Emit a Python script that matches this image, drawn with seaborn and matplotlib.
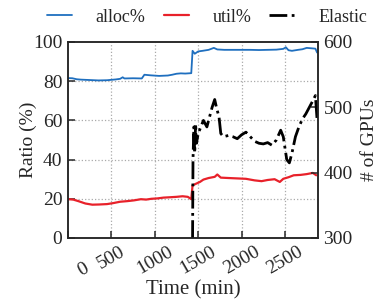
import matplotlib
matplotlib.use("Agg")
import matplotlib.pyplot as plt
import seaborn as sns

# alloc% (blue)
alloc_t = [0, 50, 100, 150, 250, 350, 450, 550, 600, 630, 650, 750, 850, 880, 950,
           1050, 1150, 1200, 1250, 1300, 1350, 1420, 1435, 1460, 1500, 1550, 1620,
           1680, 1720, 1800, 1900, 2000, 2100, 2200, 2300, 2400, 2480, 2510, 2540,
           2580, 2650, 2700, 2750, 2800, 2850, 2870]
alloc_v = [81.6, 81.5, 81.0, 80.8, 80.6, 80.4, 80.5, 80.9, 81.2, 82.0, 81.4, 81.5,
           81.4, 83.3, 83.0, 82.7, 82.9, 83.3, 83.8, 84.0, 83.9, 84.1, 95.5, 94.0,
           95.2, 95.5, 96.0, 97.0, 96.2, 96.0, 96.0, 96.0, 96.0, 95.9, 96.0, 96.1,
           96.5, 97.3, 95.8, 95.5, 96.0, 96.3, 97.0, 96.8, 96.6, 94.6]

# util% (red)
util_t = [0, 60, 120, 200, 280, 360, 450, 520, 600, 680, 760, 840, 900, 960, 1030,
          1100, 1180, 1250, 1320, 1380, 1420, 1435, 1470, 1520, 1560, 1620, 1690,
          1720, 1760, 1850, 1950, 2050, 2150, 2230, 2300, 2380, 2440, 2480, 2540,
          2600, 2680, 2750, 2820, 2860]
util_v = [19.8, 19.6, 18.8, 17.6, 17.0, 17.1, 17.3, 17.8, 18.5, 18.8, 19.2, 19.8,
          19.6, 20.0, 20.2, 20.6, 20.8, 21.0, 21.3, 21.0, 19.8, 26.8, 27.6, 28.6,
          29.8, 30.6, 31.2, 32.4, 30.8, 30.6, 30.4, 30.2, 29.4, 29.0, 29.6, 30.0,
          28.6, 30.2, 31.0, 32.0, 32.2, 32.6, 33.2, 32.0]

# Elastic (# of GPUs, right axis)
elastic_t = [1435, 1440, 1450, 1460, 1470, 1480, 1500, 1530, 1560, 1600, 1630, 1660,
             1690, 1710, 1740, 1760, 1790, 1850, 1900, 1950, 2000, 2050, 2100, 2150,
             2200, 2250, 2300, 2350, 2400, 2450, 2480, 2520, 2550, 2580, 2620, 2660,
             2700, 2740, 2780, 2820, 2850, 2870]
elastic_v = [300, 420, 470, 430, 475, 445, 460, 470, 480, 470, 485, 500, 512, 500,
             485, 460, 455, 457, 455, 452, 458, 462, 455, 448, 445, 444, 446, 442,
             450, 465, 455, 420, 415, 430, 455, 470, 482, 490, 500, 510, 518, 480]

x_ticks = [0, 500, 1000, 1500, 2000, 2500]
left_ticks = [0, 20, 40, 60, 80, 100]
right_ticks = [300, 400, 500, 600]

sns.set_style("ticks")
plt.rcParams['font.family'] = ['Liberation Serif', 'DejaVu Serif']
plt.rcParams['font.size'] = 14

fig = plt.figure(figsize=(3.84, 3.06), dpi=100)
ax = fig.add_axes([68/384, 1 - 238/306, 250/384, 196/306])
ax2 = ax.twinx()

sns.lineplot(x=alloc_t, y=alloc_v, ax=ax, color='#1f6fbf', linewidth=1.3, label='alloc%', legend=False)
sns.lineplot(x=util_t, y=util_v, ax=ax, color='#e8212a', linewidth=1.6, label='util%', legend=False)
sns.lineplot(x=elastic_t, y=elastic_v, ax=ax2, color='black', linewidth=2.0,
             linestyle='-.', label='Elastic', legend=False)

ax.set_xlim(0, 2880)
ax.set_ylim(0, 100)
ax2.set_ylim(300, 600)
ax.set_xticks(x_ticks)
# first label is drawn separately: it sits right of its tick in the original
ax.set_xticklabels([''] + [str(t) for t in x_ticks[1:]], rotation=30, ha='center')
ax.annotate(str(x_ticks[0]), xy=(x_ticks[0], 0), xycoords=('data', 'axes fraction'),
            xytext=(11, -23), textcoords='offset points', rotation=30,
            ha='center', va='center', fontsize=14)
ax.set_yticks(left_ticks)
ax2.set_yticks(right_ticks)

# dotted grid
for t in x_ticks[1:]:
    ax.axvline(t, color='#aaaaaa', linestyle=':', linewidth=0.9, zorder=0)
for v in left_ticks[1:-1]:
    ax.axhline(v, color='#aaaaaa', linestyle=':', linewidth=0.9, zorder=0)

ax.tick_params(direction='in', length=5, width=1.1, labelsize=14, pad=4)
ax2.tick_params(direction='in', length=5, width=1.1, labelsize=14, pad=4)
for sp in ax.spines.values():
    sp.set_linewidth(1.1)
for sp in ax2.spines.values():
    sp.set_linewidth(1.1)

ax.set_xlabel('Time (min)', fontsize=15, labelpad=2)
ax.set_ylabel('Ratio (%)', fontsize=14, labelpad=-3)
ax2.set_ylabel('# of GPUs', fontsize=14, labelpad=6)

h1, l1 = ax.get_legend_handles_labels()
h2, l2 = ax2.get_legend_handles_labels()
fig.legend(h1 + h2, l1 + l2, loc='upper center', bbox_to_anchor=(207/384, 1.025),
           ncol=3, frameon=False, fontsize=13, handlelength=1.4,
           handletextpad=1.3, columnspacing=1.0)

fig.savefig('out.png', dpi=100)
